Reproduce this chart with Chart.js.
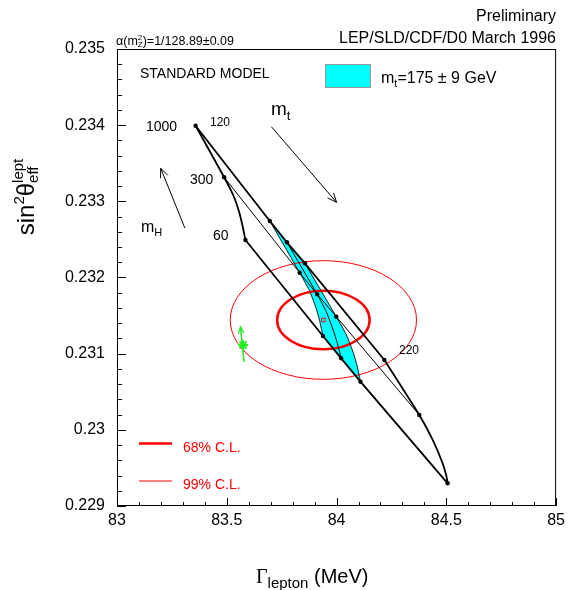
<!DOCTYPE html>
<html>
<head>
<meta charset="utf-8">
<script src="https://cdn.jsdelivr.net/npm/chart.js@4.4.0/dist/chart.umd.min.js"></script>
<style>
  html, body { margin: 0; padding: 0; background: #fff; }
  #wrap { width: 570px; height: 590px; }
</style>
</head>
<body>
<div id="wrap"><canvas id="chart" width="570" height="590"></canvas></div>
<script>
// Axis tick labels
const xTicks = [83, 83.5, 84, 84.5, 85];
const yTicks = [0.229, 0.23, 0.231, 0.232, 0.233, 0.234, 0.235];

// SM prediction grid: rows are mt values, columns are mH = 1000, 300, 60 GeV
const mtValues = [120, 166, 175, 184, 220];
const mhValues = [1000, 300, 60];
const nodeGamma = [
    [83.358, 83.488, 83.585],
    [83.696, 83.832, 83.938],
    [83.774, 83.912, 84.021],
    [83.856, 83.999, 84.109],
    [84.218, 84.377, 84.506]
];
const nodeSin2 = [
    [0.233993, 0.233316, 0.232492],
    [0.232742, 0.232063, 0.231232],
    [0.232462, 0.231779, 0.230939],
    [0.232186, 0.231485, 0.230632],
    [0.230917, 0.230195, 0.229298]
];
// points read along each constant-mt curve between mH=300 and mH=60
const bendGamma = [
    [83.529, 83.556, 83.571],
    [83.876, 83.906, 83.923],
    [83.954, 83.984, 84.004],
    [84.045, 84.076, 84.094],
    [84.438, 84.483, 84.501]
];
const bendSin2 = [
    [0.233083, 0.232864, 0.232689],
    [0.231831, 0.231606, 0.231432],
    [0.231544, 0.231317, 0.231132],
    [0.231246, 0.231015, 0.230837],
    [0.229867, 0.229561, 0.229385]
];

// Measurement: central value and contour half-widths (68%, 99% C.L.)
const fitGamma = 83.940;
const fitSin2 = 0.231442;
const clLabels = ['68% C.L.', '99% C.L.'];
const clHalfGamma = [0.2106, 0.4242];
const clHalfSin2 = [0.000385, 0.000779];

// SM point with alpha uncertainty (green) and its arrow
const alphaPoint = [83.574, 0.231114];
const alphaArrow = [[83.5786, 0.230895], [83.5623, 0.231354]];

// direction arrows
const mtArrow = [[83.703, 0.233980], [84.000, 0.232987]];
const mhArrow = [[83.309, 0.232650], [83.199, 0.233434]];

const FONT = '"Liberation Sans", Arial, Helvetica, sans-serif';
const SERIF = '"Liberation Serif", "Times New Roman", serif';

function pt(i, j) { return { x: nodeGamma[i][j], y: nodeSin2[i][j] }; }

function mtCurve(i) {
    const pts = [pt(i, 0), pt(i, 1)];
    for (let k = 0; k < bendGamma[i].length; k++) {
        pts.push({ x: bendGamma[i][k], y: bendSin2[i][k] });
    }
    pts.push(pt(i, 2));
    return pts;
}

function mhLine(j) {
    return mtValues.map((m, i) => pt(i, j));
}

// cyan band for mt = 175 +- 9 : between the mt=166 and mt=184 curves
const band = [].concat(mtCurve(1), [pt(2, 2)], mtCurve(3).reverse(), [pt(2, 0)]);

const nodes = [];
mtValues.forEach((m, i) => mhValues.forEach((h, j) => nodes.push(pt(i, j))));

const datasets = [];
datasets.push({
    label: 'band', data: band, showLine: true, fill: 'shape',
    backgroundColor: '#00ffff', borderColor: 'rgba(0,0,0,0.6)', borderWidth: 0.6,
    pointRadius: 0, tension: 0, order: 20
});
const mtWidths = [1.8, 0.7, 1, 0.7, 1.8];
mtValues.forEach((m, i) => {
    datasets.push({
        label: 'mt ' + m, data: mtCurve(i), showLine: true, fill: false,
        borderColor: '#000', borderWidth: mtWidths[i], pointRadius: 0, tension: 0.2, order: 10
    });
});
const mhWidths = [1.8, 1, 1.8];
mhValues.forEach((h, j) => {
    datasets.push({
        label: 'mH ' + h, data: mhLine(j), showLine: true, fill: false,
        borderColor: '#000', borderWidth: mhWidths[j], pointRadius: 0, tension: 0, order: 10
    });
});
datasets.push({
    label: 'nodes', data: nodes, showLine: false,
    pointRadius: 2.2, pointBackgroundColor: '#000', pointBorderWidth: 0, order: 2
});
datasets.push({
    label: 'alpha arrow', data: alphaArrow.map(p => ({ x: p[0], y: p[1] })), showLine: true,
    borderColor: '#22ee22', borderWidth: 1.2, pointRadius: 0, order: 3
});
datasets.push({
    label: 'alpha point', data: [{ x: alphaPoint[0], y: alphaPoint[1] }], showLine: false,
    pointStyle: 'star', pointRadius: 5, pointBorderColor: '#22ee22', pointBorderWidth: 2, order: 3
});
datasets.push({
    label: 'fit', data: [{ x: fitGamma, y: fitSin2 }], showLine: false,
    pointStyle: 'rect', pointRadius: 2.5, pointBorderColor: '#ff0000', pointBackgroundColor: 'rgba(0,0,0,0)',
    pointBorderWidth: 1, order: 1
});

function richText(ctx, parts, x, y, align) {
    let cursor = 0, prevStart = 0;
    const placed = parts.map(p => {
        ctx.font = p.s + 'px ' + (p.f || FONT);
        const w = ctx.measureText(p.t).width;
        let start;
        if (p.stack) { start = prevStart; cursor = Math.max(cursor, start + w); }
        else { start = cursor; cursor += w; }
        prevStart = start;
        return { p: p, start: start };
    });
    const x0 = align === 'right' ? x - cursor : align === 'center' ? x - cursor / 2 : x;
    ctx.textAlign = 'left';
    ctx.textBaseline = 'alphabetic';
    placed.forEach(o => {
        ctx.font = o.p.s + 'px ' + (o.p.f || FONT);
        ctx.fillText(o.p.t, x0 + o.start, y + (o.p.dy || 0));
    });
}

function drawArrow(chart, a, color, width, head) {
    const { ctx, scales: { x, y } } = chart;
    const x0 = x.getPixelForValue(a[0][0]), y0 = y.getPixelForValue(a[0][1]);
    const x1 = x.getPixelForValue(a[1][0]), y1 = y.getPixelForValue(a[1][1]);
    const ang = Math.atan2(y1 - y0, x1 - x0);
    ctx.save();
    ctx.strokeStyle = color;
    ctx.lineWidth = width;
    ctx.beginPath();
    ctx.moveTo(x0, y0);
    ctx.lineTo(x1, y1);
    ctx.moveTo(x1 - head * Math.cos(ang - 0.4), y1 - head * Math.sin(ang - 0.4));
    ctx.lineTo(x1, y1);
    ctx.lineTo(x1 - head * Math.cos(ang + 0.4), y1 - head * Math.sin(ang + 0.4));
    ctx.stroke();
    ctx.restore();
}

const decorations = {
    id: 'decorations',
    afterDatasetDraw(chart, args) {
        if (args.index !== 0) return;
        // C.L. ellipses over the band, under the grid lines
        const { ctx, chartArea: a, scales: { x, y } } = chart;
        const cx = x.getPixelForValue(fitGamma), cy = y.getPixelForValue(fitSin2);
        ctx.save();
        ctx.beginPath();
        ctx.rect(a.left, a.top, a.width, a.height);
        ctx.clip();
        clHalfGamma.forEach((hg, k) => {
            const rx = Math.abs(x.getPixelForValue(fitGamma + hg) - cx);
            const ry = Math.abs(y.getPixelForValue(fitSin2 + clHalfSin2[k]) - cy);
            ctx.beginPath();
            ctx.ellipse(cx, cy, rx, ry, 0, 0, Math.PI * 2);
            ctx.strokeStyle = '#ff0000';
            ctx.lineWidth = k === 0 ? 2.5 : 1;
            ctx.stroke();
        });
        ctx.restore();
    },
    afterDraw(chart) {
        const { ctx, chartArea: a, scales: { x, y } } = chart;
        ctx.save();
        // frame
        ctx.strokeStyle = '#000';
        ctx.lineWidth = 1;
        ctx.strokeRect(a.left + 0.5, a.top + 0.5, a.width - 1, a.height - 1);
        // inward ticks
        ctx.beginPath();
        for (let k = 0; k <= 20; k++) {
            const px = Math.round(x.getPixelForValue(83 + k * 0.1)) + 0.5;
            const len = k % 5 === 0 ? 8 : 4;
            ctx.moveTo(px, a.bottom);
            ctx.lineTo(px, a.bottom - len);
        }
        for (let k = 0; k <= 30; k++) {
            const py = Math.round(y.getPixelForValue(0.229 + k * 0.0002)) + 0.5;
            const len = k % 5 === 0 ? 9 : 5;
            ctx.moveTo(a.left, py);
            ctx.lineTo(a.left + len, py);
        }
        ctx.stroke();

        // arrows
        drawArrow(chart, mtArrow, '#000', 1, 10);
        drawArrow(chart, mhArrow, '#000', 1, 10);
        drawArrow(chart, alphaArrow, '#22ee22', 1.2, 7);

        ctx.fillStyle = '#000';
        // header
        richText(ctx, [{ t: 'Preliminary', s: 16 }], 556, 21, 'right');
        richText(ctx, [{ t: 'LEP/SLD/CDF/D0 March 1996', s: 16 }], 556, 42.5, 'right');
        richText(ctx, [
            { t: '\u03b1(m', s: 12.5 },
            { t: '2', s: 8, dy: -5 },
            { t: 'Z', s: 8, dy: 2, stack: true },
            { t: ')=1/128.89\u00b10.09', s: 12.5 }
        ], 116, 45, 'left');

        // legend
        richText(ctx, [{ t: 'STANDARD MODEL', s: 14 }], 140, 78, 'left');
        ctx.fillStyle = '#00ffff';
        ctx.fillRect(325, 64, 46, 24);
        ctx.strokeStyle = '#999';
        ctx.strokeRect(325.5, 64.5, 45, 23);
        ctx.fillStyle = '#000';
        richText(ctx, [
            { t: 'm', s: 16 },
            { t: 't', s: 11, dy: 4 },
            { t: '=175 \u00b1 9 GeV', s: 16 }
        ], 381, 82.5, 'left');

        // grid labels
        richText(ctx, [{ t: '1000', s: 14 }], 146, 131, 'left');
        richText(ctx, [{ t: '120', s: 12 }], 210, 126, 'left');
        richText(ctx, [{ t: '300', s: 14 }], 190, 184, 'left');
        richText(ctx, [{ t: '60', s: 14 }], 213, 240, 'left');
        richText(ctx, [{ t: '220', s: 12 }], 399, 354, 'left');
        richText(ctx, [{ t: 'm', s: 19 }, { t: 't', s: 13, dy: 5 }], 271, 115, 'left');
        richText(ctx, [{ t: 'm', s: 16 }, { t: 'H', s: 11, dy: 4 }], 141, 232, 'left');

        // C.L. legend
        ctx.strokeStyle = '#ff0000';
        ctx.lineWidth = 2.5;
        ctx.beginPath(); ctx.moveTo(139, 443.5); ctx.lineTo(172, 443.5); ctx.stroke();
        ctx.strokeStyle = '#ff0000';
        ctx.lineWidth = 1.2;
        ctx.beginPath(); ctx.moveTo(139, 481); ctx.lineTo(172, 481); ctx.stroke();
        ctx.fillStyle = '#ff0000';
        richText(ctx, [{ t: clLabels[0], s: 14 }], 183, 451.5, 'left');
        richText(ctx, [{ t: clLabels[1], s: 14 }], 183, 488.5, 'left');

        // axis titles
        ctx.fillStyle = '#000';
        richText(ctx, [
            { t: '\u0393', s: 20, f: SERIF },
            { t: 'lepton', s: 15, dy: 5 },
            { t: ' (MeV)', s: 20 }
        ], 256, 582.5, 'left');
        ctx.translate(34, 197);
        ctx.rotate(-Math.PI / 2);
        richText(ctx, [
            { t: 'sin', s: 24 },
            { t: '2', s: 15, dy: -10 },
            { t: '\u03b8', s: 24 },
            { t: 'lept', s: 15, dy: -11 },
            { t: 'eff', s: 15, dy: 4, stack: true }
        ], 0, 0, 'center');
        ctx.restore();
    }
};

new Chart(document.getElementById('chart'), {
    type: 'scatter',
    data: { datasets: datasets },
    options: {
        responsive: false,
        animation: false,
        devicePixelRatio: 1,
        layout: { padding: { top: 49, right: 13, left: 0, bottom: 0 } },
        plugins: { legend: { display: false }, tooltip: { enabled: false } },
        scales: {
            x: {
                type: 'linear', min: 83, max: 85,
                afterFit: function(s) { s.height = 84; },
                afterBuildTicks: function(s) { s.ticks = xTicks.map(v => ({ value: v })); },
                grid: { display: false, drawTicks: false },
                border: { display: false },
                ticks: {
                    autoSkip: false, maxRotation: 0, padding: 5, color: '#000',
                    font: { size: 16, family: FONT },
                    callback: v => String(v)
                }
            },
            y: {
                type: 'linear', min: 0.229, max: 0.235,
                afterFit: function(s) { s.width = 117; },
                afterBuildTicks: function(s) { s.ticks = yTicks.map(v => ({ value: v })); },
                grid: { display: false, drawTicks: false },
                border: { display: false },
                ticks: {
                    autoSkip: false, padding: 12, color: '#000',
                    font: { size: 16, family: FONT },
                    callback: v => String(Number(v.toFixed(3)))
                }
            }
        }
    },
    plugins: [decorations]
});
</script>
</body>
</html>
